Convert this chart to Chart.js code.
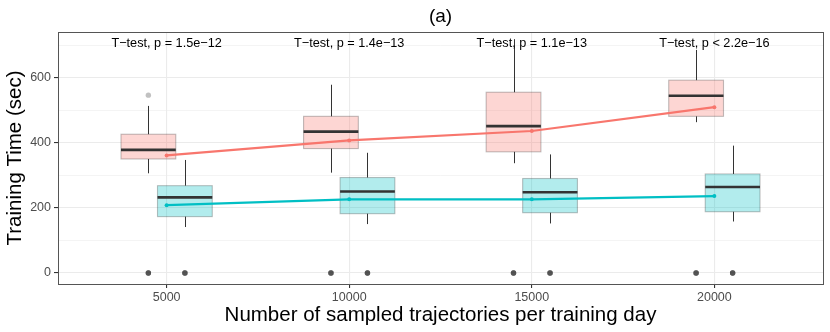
<!DOCTYPE html>
<html>
<head>
<meta charset="utf-8">
<title>Training time</title>
<script src="https://cdn.jsdelivr.net/npm/chart.js@4.4.0/dist/chart.umd.min.js"></script>
<style>
    html, body { margin: 0; padding: 0; background: #ffffff; }
    #wrap { width: 830px; height: 332px; }
</style>
</head>
<body>
<div id="wrap"><canvas id="trainingChart" width="830" height="332"></canvas></div>
<script>
// --- Values ---
const sampleSizes = [5000, 10000, 15000, 20000];
const yMajorTicks = [0, 200, 400, 600];
const yMinorTicks = [100, 300, 500, 700];
const pValueLabels = [
    'T\u2212test, p = 1.5e\u221212',
    'T\u2212test, p = 1.4e\u221213',
    'T\u2212test, p = 1.1e\u221213',
    'T\u2212test, p < 2.2e\u221216'
];

// red group (left box of each pair)
const redLowerWhisker = [306, 308, 337, 463];
const redQ1 = [350, 382, 372, 481];
const redMedian = [378, 434, 451, 544];
const redQ3 = [426, 481, 555, 592];
const redUpperWhisker = [513, 578, 718, 685];
const redMean = [361, 407, 436, 509];
const redOutliers = [[546, 0], [0], [0], [0]];
const redOutlierCounts = [[1, 5], [5], [5], [5]];

// teal group (right box of each pair)
const tealLowerWhisker = [141, 150, 152, 158];
const tealQ1 = [173, 182, 185, 188];
const tealMedian = [232, 250, 248, 264];
const tealQ3 = [268, 293, 290, 304];
const tealUpperWhisker = [347, 369, 364, 391];
const tealMean = [208, 226, 226, 236];
const tealOutliers = [[0], [0], [0], [0]];
const tealOutlierCounts = [[5], [5], [5], [5]];

// --- Styling / layout constants ---
const DODGE = 500;       // x-offset of each box from its category
const BOX_WIDTH = 1500;  // box width in x units
const FONT = '"Liberation Sans", Arial, Helvetica, sans-serif';

const groups = [
    {
        offset: -DODGE, fill: 'rgba(248,118,109,0.3)',
        low: redLowerWhisker, q1: redQ1, med: redMedian, q3: redQ3, high: redUpperWhisker
    },
    {
        offset: DODGE, fill: 'rgba(0,191,196,0.3)',
        low: tealLowerWhisker, q1: tealQ1, med: tealMedian, q3: tealQ3, high: tealUpperWhisker
    }
];

function outlierPoints(values, counts, offset) {
    const pts = [];
    values.forEach((list, i) => {
        list.forEach((v, j) => {
            for (let k = 0; k < counts[i][j]; k++) {
                pts.push({ x: sampleSizes[i] + offset, y: v });
            }
        });
    });
    return pts;
}

// --- Boxes, whiskers and medians, drawn through the chart scales ---
const boxPlotPlugin = {
    id: 'boxPlot',
    beforeDatasetsDraw(chart) {
        const { ctx, scales: { x, y } } = chart;
        ctx.save();
        sampleSizes.forEach((s, i) => {
            groups.forEach(g => {
                const cx = Math.round(x.getPixelForValue(s + g.offset)) + 0.5;
                const left = x.getPixelForValue(s + g.offset - BOX_WIDTH / 2);
                const right = x.getPixelForValue(s + g.offset + BOX_WIDTH / 2);
                const yQ1 = y.getPixelForValue(g.q1[i]);
                const yQ3 = y.getPixelForValue(g.q3[i]);

                // whiskers
                ctx.strokeStyle = '#333333';
                ctx.lineWidth = 1;
                ctx.beginPath();
                ctx.moveTo(cx, yQ3);
                ctx.lineTo(cx, y.getPixelForValue(g.high[i]));
                ctx.moveTo(cx, yQ1);
                ctx.lineTo(cx, y.getPixelForValue(g.low[i]));
                ctx.stroke();

                // box
                ctx.fillStyle = g.fill;
                ctx.fillRect(left, yQ3, right - left, yQ1 - yQ3);
                ctx.strokeStyle = 'rgba(51,51,51,0.3)';
                ctx.lineWidth = 1.1;
                ctx.strokeRect(left, yQ3, right - left, yQ1 - yQ3);

                // median
                const yMed = y.getPixelForValue(g.med[i]);
                ctx.strokeStyle = '#333333';
                ctx.lineWidth = 2.6;
                ctx.beginPath();
                ctx.moveTo(left, yMed);
                ctx.lineTo(right, yMed);
                ctx.stroke();
            });
        });
        ctx.restore();
    },
    afterDraw(chart) {
        const { ctx, chartArea, scales: { x, y } } = chart;
        ctx.save();

        // p-value annotations
        ctx.fillStyle = '#000000';
        ctx.font = '12.7px ' + FONT;
        ctx.textAlign = 'center';
        ctx.textBaseline = 'middle';
        sampleSizes.forEach((s, i) => {
            ctx.fillText(pValueLabels[i], x.getPixelForValue(s), y.getPixelForValue(705));
        });

        // panel border
        ctx.strokeStyle = '#555555';
        ctx.lineWidth = 1;
        ctx.strokeRect(Math.round(chartArea.left) + 0.5, Math.round(chartArea.top) + 0.5,
            Math.round(chartArea.width), Math.round(chartArea.height));

        // title
        ctx.font = '19px ' + FONT;
        ctx.fillText('(a)', (chartArea.left + chartArea.right) / 2, 16.5);
        ctx.restore();
    }
};

const ctx = document.getElementById('trainingChart').getContext('2d');
new Chart(ctx, {
    type: 'scatter',
    data: {
        datasets: [
            {
                type: 'line',
                data: sampleSizes.map((s, i) => ({ x: s, y: redMean[i] })),
                borderColor: '#F8766D',
                backgroundColor: '#F8766D',
                borderWidth: 2.2,
                pointRadius: 2,
                pointBorderWidth: 0,
                tension: 0
            },
            {
                type: 'line',
                data: sampleSizes.map((s, i) => ({ x: s, y: tealMean[i] })),
                borderColor: '#00BFC4',
                backgroundColor: '#00BFC4',
                borderWidth: 2.2,
                pointRadius: 2,
                pointBorderWidth: 0,
                tension: 0
            },
            {
                data: outlierPoints(redOutliers, redOutlierCounts, -DODGE)
                    .concat(outlierPoints(tealOutliers, tealOutlierCounts, DODGE)),
                backgroundColor: 'rgba(51,51,51,0.3)',
                borderWidth: 0,
                pointRadius: 2.7
            }
        ]
    },
    options: {
        responsive: false,
        animation: false,
        layout: { padding: { top: 32, right: 7, left: 0, bottom: 0 } },
        plugins: {
            legend: { display: false },
            tooltip: { enabled: false }
        },
        scales: {
            x: {
                type: 'linear',
                min: 2025,
                max: 22975,
                afterBuildTicks: scale => { scale.ticks = sampleSizes.map(v => ({ value: v })); },
                afterFit: scale => { scale.height = 48; },
                ticks: {
                    autoSkip: false,
                    maxRotation: 0,
                    padding: 2,
                    color: '#4d4d4d',
                    font: { family: FONT, size: 12.5 },
                    callback: v => String(v)
                },
                grid: {
                    color: '#ebebeb',
                    lineWidth: 1.1,
                    tickColor: '#333333',
                    tickLength: 4
                },
                border: { display: false },
                title: {
                    display: true,
                    text: 'Number of sampled trajectories per training day',
                    color: '#000000',
                    font: { family: FONT, size: 20.5 },
                    padding: { top: 0, bottom: 4 }
                }
            },
            y: {
                min: -34,
                max: 740,
                afterBuildTicks: scale => {
                    scale.ticks = yMajorTicks.concat(yMinorTicks)
                        .sort((a, b) => a - b)
                        .map(v => ({ value: v }));
                },
                afterFit: scale => { scale.width = 58; },
                ticks: {
                    autoSkip: false,
                    padding: 3,
                    color: '#4d4d4d',
                    font: { family: FONT, size: 12.5 },
                    callback: v => (yMajorTicks.includes(v) ? String(v) : '')
                },
                grid: {
                    color: '#ebebeb',
                    lineWidth: c => (yMajorTicks.includes(c.tick.value) ? 1.1 : 0.55),
                    tickColor: c => (yMajorTicks.includes(c.tick.value) ? '#333333' : 'rgba(0,0,0,0)'),
                    tickLength: 4
                },
                border: { display: false },
                title: {
                    display: true,
                    text: 'Training Time (sec)',
                    color: '#000000',
                    font: { family: FONT, size: 20.5 },
                    padding: { top: 3, bottom: 0 }
                }
            }
        }
    },
    plugins: [boxPlotPlugin]
});
</script>
</body>
</html>
